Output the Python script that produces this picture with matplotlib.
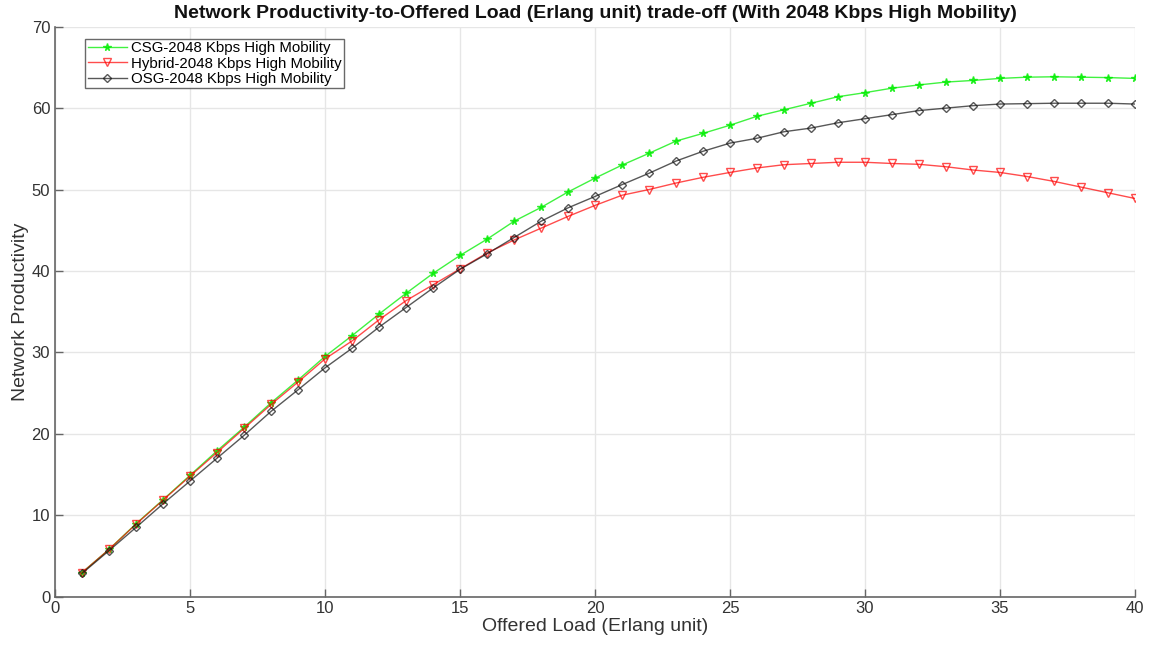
import numpy as np
import matplotlib
matplotlib.use("Agg")
import matplotlib.pyplot as plt

# -----------------------------
# Data
# -----------------------------
offered_load = list(range(1, 41))

csg = [2.95, 5.8, 8.95, 11.9, 14.9, 17.9, 20.8, 23.8, 26.6, 29.5,
       32.05, 34.7, 37.25, 39.7, 41.9, 43.9, 46.1, 47.8, 49.7, 51.4,
       53.0, 54.45, 55.95, 56.9, 57.9, 59.0, 59.8, 60.6, 61.4, 61.9,
       62.45, 62.85, 63.2, 63.4, 63.65, 63.8, 63.85, 63.8, 63.75, 63.65]

hybrid = [2.95, 5.8, 8.9, 11.85, 14.8, 17.7, 20.65, 23.6, 26.35, 29.2,
          31.4, 34.0, 36.35, 38.3, 40.25, 42.2, 43.8, 45.25, 46.7, 48.05,
          49.3, 50.0, 50.8, 51.5, 52.1, 52.65, 53.05, 53.2, 53.35, 53.35,
          53.2, 53.1, 52.8, 52.4, 52.1, 51.6, 51.0, 50.3, 49.6, 48.9]

osg = [2.85, 5.65, 8.5, 11.4, 14.2, 17.0, 19.8, 22.75, 25.4, 28.1,
       30.5, 33.1, 35.5, 37.9, 40.2, 42.1, 44.1, 46.1, 47.75, 49.15,
       50.6, 52.0, 53.5, 54.7, 55.7, 56.3, 57.1, 57.55, 58.2, 58.7,
       59.2, 59.7, 60.0, 60.3, 60.5, 60.55, 60.6, 60.6, 60.6, 60.5]

labels = ["CSG-2048 Kbps High Mobility",
          "Hybrid-2048 Kbps High Mobility",
          "OSG-2048 Kbps High Mobility"]

x_ticks = [0, 5, 10, 15, 20, 25, 30, 35, 40]
y_ticks = [0, 10, 20, 30, 40, 50, 60, 70]

# -----------------------------
# Plot
# -----------------------------
plt.rcParams["font.family"] = ["Liberation Sans", "DejaVu Sans"]

fig = plt.figure(figsize=(11.51, 6.45), dpi=100)
ax = fig.add_axes([0.0478, 0.075, 0.9383, 0.8836])

ax.plot(offered_load, csg, color="#00ee00", marker="*", markersize=5.5,
        linewidth=1, alpha=0.75, label=labels[0])
ax.plot(offered_load, hybrid, color="#ff0000", marker="v", markersize=5.5,
        markerfacecolor="none", linewidth=1, alpha=0.7, label=labels[1])
ax.plot(offered_load, osg, color="#111111", marker="D", markersize=4.5,
        markerfacecolor="none", linewidth=1, alpha=0.7, label=labels[2])

ax.set_xlim(0, 40)
ax.set_ylim(0, 70)
ax.set_xticks(x_ticks)
ax.set_yticks(y_ticks)
ax.grid(True, color="#e6e6e6", linewidth=1)
ax.set_axisbelow(True)

ax.spines["top"].set_visible(False)
ax.spines["right"].set_visible(False)
for s in ["left", "bottom"]:
    ax.spines[s].set_color("#666666")
    ax.spines[s].set_linewidth(1.2)
ax.tick_params(direction="in", length=6, width=1, colors="#666666",
               labelcolor="#333333", labelsize=12)

ax.set_xlabel("Offered Load (Erlang unit)", fontsize=14, color="#333333",
              labelpad=1)
ax.set_ylabel("Network Productivity", fontsize=14, color="#333333",
              labelpad=2)
ax.set_title("Network Productivity-to-Offered Load (Erlang unit) trade-off "
             "(With 2048 Kbps High Mobility)", fontsize=14,
             fontweight="bold", color="#111111", pad=6)

leg = ax.legend(loc="upper left", bbox_to_anchor=(0.028, 0.978),
                fontsize=10.8, frameon=True, fancybox=False,
                borderpad=0.15, labelspacing=0.08, handlelength=2.6,
                handletextpad=0.3, borderaxespad=0)
leg.get_frame().set_edgecolor("#444444")
leg.get_frame().set_linewidth(1)

fig.savefig("out.png", dpi=100, facecolor="white")
